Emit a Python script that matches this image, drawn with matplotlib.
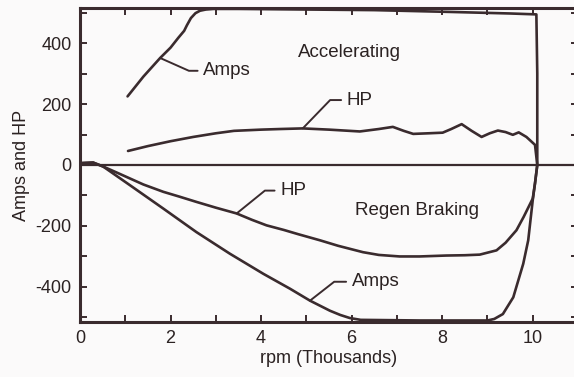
import matplotlib
matplotlib.use("Agg")
import matplotlib.pyplot as plt
from matplotlib.ticker import MultipleLocator

# accelerating: amps and hp vs rpm (thousands)
acc_amps_x = [1.05, 1.4, 1.77, 2.0, 2.17, 2.3, 2.36, 2.45, 2.55, 2.65, 2.78, 2.95, 3.5, 5.0, 6.5,
              8.2, 9.5, 10.08, 10.1, 10.1]
acc_amps_y = [225, 290, 351, 385, 417, 440, 458, 482, 498, 506, 510, 512, 512, 510, 508,
              502, 497, 494, 300, 0]

acc_hp_x = [1.06, 1.5, 2.0, 2.5, 3.0, 3.4, 4.0, 4.42, 4.92, 5.5, 6.18, 6.6, 6.91, 7.15, 7.36, 7.7,
            8.01, 8.2, 8.43, 8.65, 8.87, 9.05, 9.23, 9.4, 9.56, 9.69, 9.86, 9.97, 10.05, 10.1]
acc_hp_y = [46, 62, 78, 92, 104, 112, 116, 118, 120, 116, 110, 118, 125, 112, 102, 104,
            106, 118, 134, 112, 92, 104, 113, 108, 99, 107, 92, 77, 66, 0]

# regen braking
reg_hp_x = [10.1, 10.05, 10.0, 9.8, 9.64, 9.4, 9.2, 8.83, 8.5, 8.09, 7.5, 7.06, 6.6, 6.25, 5.7,
            5.3, 4.82, 4.5, 4.12, 3.8, 3.46, 3.0, 2.57, 2.2, 1.84, 1.4, 1.1, 0.8, 0.51, 0.29, 0.0]
reg_hp_y = [0, -60, -110, -170, -214, -255, -280, -294, -296, -297, -300, -300, -295, -286, -265,
            -247, -227, -213, -198, -180, -159, -140, -121, -104, -88, -64, -44, -24, -5, 8, 6]

reg_amps_x = [10.1, 10.05, 10.0, 9.9, 9.79, 9.57, 9.34, 9.15, 9.0, 7.5, 6.2, 5.96, 5.75, 5.52, 5.08,
              4.64, 4.05, 3.31, 2.57, 1.84, 1.1, 0.51, 0.29, 0.0]
reg_amps_y = [0, -60, -115, -247, -324, -434, -489, -505, -510, -510, -508, -502, -492, -478, -445,
              -406, -357, -291, -220, -143, -66, -5, 8, 6]

ink = "#3a2b2e"
txt = "#2b2222"
plt.rcParams["font.family"] = ["Liberation Sans", "DejaVu Sans"]
plt.rcParams["axes.unicode_minus"] = False

fig = plt.figure(figsize=(5.74, 3.77), dpi=100, facecolor="#fbfafa")
ax = fig.add_axes([0.1394, 0.1459, 0.8676, 0.8329], facecolor="#fbfafa")

lw = 1.9
ax.axhline(0, color=ink, lw=1.6)
for xs, ys in [(acc_amps_x, acc_amps_y), (acc_hp_x, acc_hp_y),
               (reg_hp_x, reg_hp_y), (reg_amps_x, reg_amps_y)]:
    ax.plot(xs, ys, color=ink, lw=lw, solid_joinstyle="round", solid_capstyle="round")

ax.set_xlim(0, 11)
ax.set_ylim(-515, 515)
ax.xaxis.set_major_locator(MultipleLocator(2))
ax.xaxis.set_minor_locator(MultipleLocator(1))
ax.yaxis.set_major_locator(MultipleLocator(200))
ax.yaxis.set_minor_locator(MultipleLocator(100))
ax.tick_params(which="both", direction="in", top=True, right=True, length=5,
               width=1.4, color=ink, labelsize=13, labelcolor=txt, pad=6)
for s in ax.spines.values():
    s.set_linewidth(2.2)
    s.set_color(ink)

ax.set_xlabel("rpm (Thousands)", fontsize=13, color=txt, labelpad=2)
ax.set_ylabel("Amps and HP", fontsize=13, color=txt, labelpad=4)

fs = 13.5
ax.text(4.81, 370, "Accelerating", fontsize=fs, color=txt, va="center", ha="left")
ax.text(6.07, -148, "Regen Braking", fontsize=fs, color=txt, va="center", ha="left")

def leader(label, xy, xytext, ang):
    ax.annotate(label, xy=xy, xytext=xytext, fontsize=fs, color=txt, va="center", ha="left",
                arrowprops=dict(arrowstyle="-", color=ink, lw=1.4, shrinkA=2, shrinkB=0,
                                connectionstyle="angle,angleA=0,angleB=%d,rad=0" % ang))

leader("Amps", (1.77, 351), (2.72, 309), -24)
leader("HP", (4.92, 120), (5.89, 213), 46)
leader("HP", (3.46, -159), (4.42, -84), 39)
leader("Amps", (5.08, -445), (6.0, -383), 38)

fig.savefig("out.png", dpi=100, facecolor=fig.get_facecolor())
